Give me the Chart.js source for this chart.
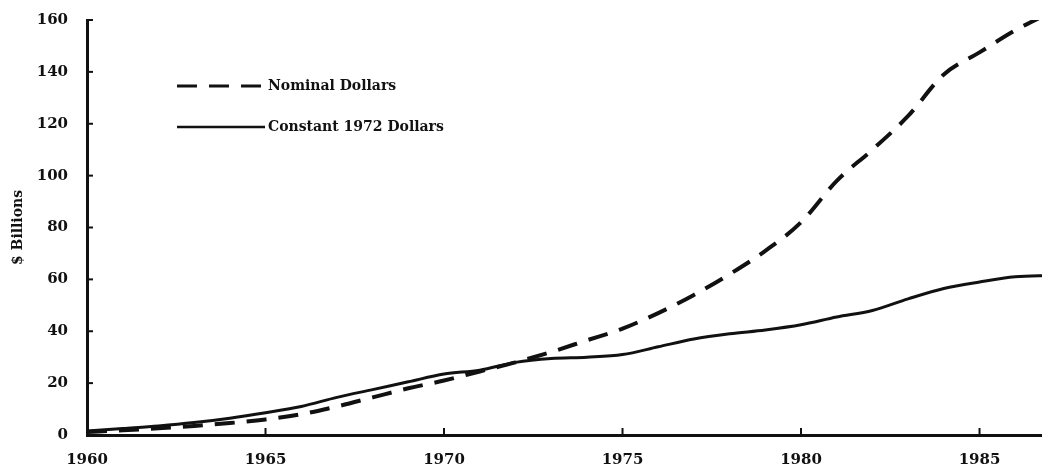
<!DOCTYPE html>
<html>
<head>
<meta charset="utf-8">
<script src="https://cdn.jsdelivr.net/npm/chart.js@4/dist/chart.umd.min.js"></script>
<style>
  html, body { margin: 0; padding: 0; background: #fff; }
  #wrap { width: 1042px; height: 475px; }
</style>
</head>
<body>
<div id="wrap"><canvas id="chart"></canvas></div>
<script>
// ================= DATA =================
const years = [1960, 1961, 1962, 1963, 1964, 1965, 1966, 1967, 1968, 1969,
  1970, 1971, 1972, 1973, 1974, 1975, 1976, 1977, 1978, 1979,
  1980, 1981, 1982, 1983, 1984, 1985, 1986, 1987];

const nominal = [1.2, 1.8, 2.6, 3.5, 4.6, 6, 8, 11, 14.5, 18,
  21, 24.5, 28, 32, 36.5, 41, 47, 54, 62, 71,
  82, 98, 110, 123, 139, 147.5, 156, 163];

const constant1972 = [1.5, 2.5, 3.5, 4.8, 6.5, 8.6, 11, 14.5, 17.5, 20.5,
  23.5, 25, 28, 29.5, 30, 31, 34, 37, 39, 40.5,
  42.5, 45.5, 48, 52.5, 56.5, 59, 61, 61.5];

const xTicks = [1960, 1965, 1970, 1975, 1980, 1985];
const yTicks = [0, 20, 40, 60, 80, 100, 120, 140, 160];

const FONT = "'DejaVu Serif', serif";
const INK = "#111";

// ================= PLUGINS =================
// short tick marks drawn inward from the axis lines
const innerTicks = {
  id: "innerTicks",
  afterDraw(chart) {
    const { ctx, chartArea } = chart;
    const xs = chart.scales.x, ys = chart.scales.y;
    ctx.save();
    ctx.strokeStyle = INK;
    ctx.lineWidth = 2;
    xTicks.slice(1).forEach((v) => {
      const px = xs.getPixelForValue(v);
      ctx.beginPath();
      ctx.moveTo(px, chartArea.bottom);
      ctx.lineTo(px, chartArea.bottom - 7);
      ctx.stroke();
    });
    yTicks.slice(1).forEach((v) => {
      const py = ys.getPixelForValue(v);
      ctx.beginPath();
      ctx.moveTo(chartArea.left, py);
      ctx.lineTo(chartArea.left + 6, py);
      ctx.stroke();
    });
    ctx.restore();
  },
};

// legend inside the plot, top left
const innerLegend = {
  id: "innerLegend",
  afterDraw(chart) {
    const { ctx } = chart;
    const rows = [86, 127];
    ctx.save();
    chart.data.datasets.forEach((ds, i) => {
      const y = rows[i];
      ctx.strokeStyle = INK;
      ctx.lineWidth = ds.borderDash.length ? 3 : 2.5;
      ctx.setLineDash(ds.borderDash);
      ctx.beginPath();
      ctx.moveTo(177, y);
      ctx.lineTo(265, y);
      ctx.stroke();
      ctx.setLineDash([]);
      ctx.fillStyle = INK;
      ctx.font = `bold 14px ${FONT}`;
      ctx.textBaseline = "middle";
      ctx.fillText(ds.label, 268, y);
    });
    ctx.restore();
  },
};

// ================= CHART =================
new Chart(document.getElementById("chart"), {
  type: "line",
  data: {
    datasets: [
      {
        label: "Nominal Dollars",
        data: years.map((x, i) => ({ x, y: nominal[i] })),
        borderColor: INK,
        borderWidth: 4,
        borderDash: [20, 12],
        pointRadius: 0,
        cubicInterpolationMode: "monotone",
      },
      {
        label: "Constant 1972 Dollars",
        data: years.map((x, i) => ({ x, y: constant1972[i] })),
        borderColor: INK,
        borderWidth: 3,
        borderDash: [],
        pointRadius: 0,
        cubicInterpolationMode: "monotone",
      },
    ],
  },
  options: {
    responsive: true,
    maintainAspectRatio: false,
    animation: false,
    layout: { padding: { top: 20, right: 0, left: 0, bottom: 0 } },
    plugins: { legend: { display: false }, tooltip: { enabled: false } },
    scales: {
      x: {
        type: "linear",
        min: 1960,
        max: 1986.75,
        afterBuildTicks: (s) => (s.ticks = xTicks.map((value) => ({ value }))),
        afterFit: (s) => {
          s.height = 40;
          s.paddingLeft = 0;
          s.paddingRight = 0;
        },
        grid: { display: false, drawTicks: false },
        border: { display: true, color: INK, width: 3 },
        ticks: {
          color: INK,
          padding: 16,
          font: { family: FONT, size: 15, weight: "bold" },
          callback: (v) => String(v),
        },
      },
      y: {
        min: 0,
        max: 160,
        afterBuildTicks: (s) => (s.ticks = yTicks.map((value) => ({ value }))),
        afterFit: (s) => {
          s.width = 87;
          s.paddingTop = 0;
          s.paddingBottom = 0;
        },
        grid: { display: false, drawTicks: false },
        border: { display: true, color: INK, width: 3 },
        ticks: {
          color: INK,
          padding: 19,
          font: { family: FONT, size: 15, weight: "bold" },
        },
        title: {
          display: true,
          text: "$ Billions",
          color: INK,
          padding: { top: 10, bottom: 0 },
          font: { family: FONT, size: 14, weight: "bold" },
        },
      },
    },
  },
  plugins: [innerTicks, innerLegend],
});
</script>
</body>
</html>
